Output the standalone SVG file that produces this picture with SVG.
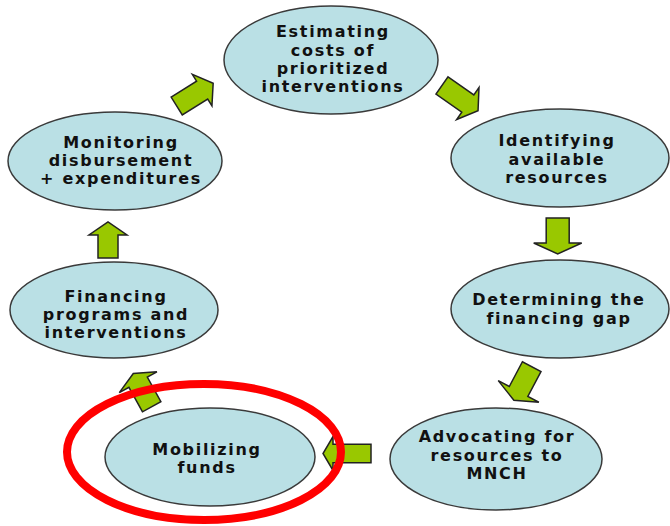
<svg xmlns="http://www.w3.org/2000/svg" width="670" height="526" viewBox="0 0 670 526">
<style>
.node ellipse{fill:#bae0e5;stroke:#3a3a3a;stroke-width:1.5}
.node text{font-family:"DejaVu Sans","Verdana",sans-serif;font-weight:bold;font-size:16px;letter-spacing:1.7px;fill:#111;text-anchor:middle}
.arrow{fill:#99c800;stroke:#222;stroke-width:1.5;stroke-linejoin:miter}
.hl{fill:none;stroke:#ff0000;stroke-width:8}
</style>
<rect width="670" height="526" fill="#ffffff"/>
<g id="connectors">
<polygon class="arrow" transform="translate(176.7,106) rotate(-32)" points="0,-10.5 30,-10.5 30,-18.5 43,0 30,18.5 30,10.5 0,10.5"/>
<polygon class="arrow" transform="translate(442,85.5) rotate(35)" points="0,-10.5 31.5,-10.5 31.5,-19.5 44,0 31.5,19.5 31.5,10.5 0,10.5"/>
<polygon class="arrow" transform="translate(557.7,218) rotate(90)" points="0,-11.5 25,-11.5 25,-24 36,0 25,24 25,11.5 0,11.5"/>
<polygon class="arrow" transform="translate(531.7,366.7) rotate(118)" points="0,-10.5 28,-10.5 28,-23 38,0 28,23 28,10.5 0,10.5"/>
<polygon class="arrow" transform="translate(371,453.5) rotate(180)" points="0,-9.2 38,-9.2 38,-17 48,0 38,17 38,9.2 0,9.2"/>
<polygon class="arrow" transform="translate(151.7,406.7) rotate(-119)" points="0,-10.5 28,-10.5 28,-21.5 38,0 28,21.5 28,10.5 0,10.5"/>
<polygon class="arrow" transform="translate(108,258) rotate(-90)" points="0,-10 23,-10 23,-19 36,0 23,19 23,10 0,10"/>
</g>
<g id="estimating" class="node">
<ellipse cx="331" cy="60" rx="107" ry="54"/>
<text x="333" y="37">Estimating</text>
<text x="333" y="56">costs of</text>
<text x="333" y="74">prioritized</text>
<text x="333" y="92">interventions</text>
</g>
<g id="identifying" class="node">
<ellipse cx="560" cy="158" rx="109" ry="49"/>
<text x="557" y="146">Identifying</text>
<text x="557" y="165">available</text>
<text x="557" y="183">resources</text>
</g>
<g id="determining" class="node">
<ellipse cx="560" cy="309" rx="109" ry="49"/>
<text x="559" y="305">Determining the</text>
<text x="559" y="324">financing gap</text>
</g>
<g id="advocating" class="node">
<ellipse cx="496" cy="459" rx="106" ry="51"/>
<text x="497" y="442">Advocating for</text>
<text x="497" y="461">resources to</text>
<text x="497" y="479">MNCH</text>
</g>
<g id="mobilizing" class="node">
<ellipse cx="210" cy="457" rx="105" ry="49"/>
<text x="207" y="455">Mobilizing</text>
<text x="207" y="473">funds</text>
</g>
<g id="financing" class="node">
<ellipse cx="114" cy="310" rx="104" ry="48"/>
<text x="116" y="302">Financing</text>
<text x="116" y="320">programs and</text>
<text x="116" y="338">interventions</text>
</g>
<g id="monitoring" class="node">
<ellipse cx="115" cy="161" rx="107" ry="49"/>
<text x="121" y="148">Monitoring</text>
<text x="121" y="166">disbursement</text>
<text x="121" y="184">+ expenditures</text>
</g>
<ellipse id="highlight" class="hl" cx="204" cy="452" rx="137" ry="68"/>
</svg>
